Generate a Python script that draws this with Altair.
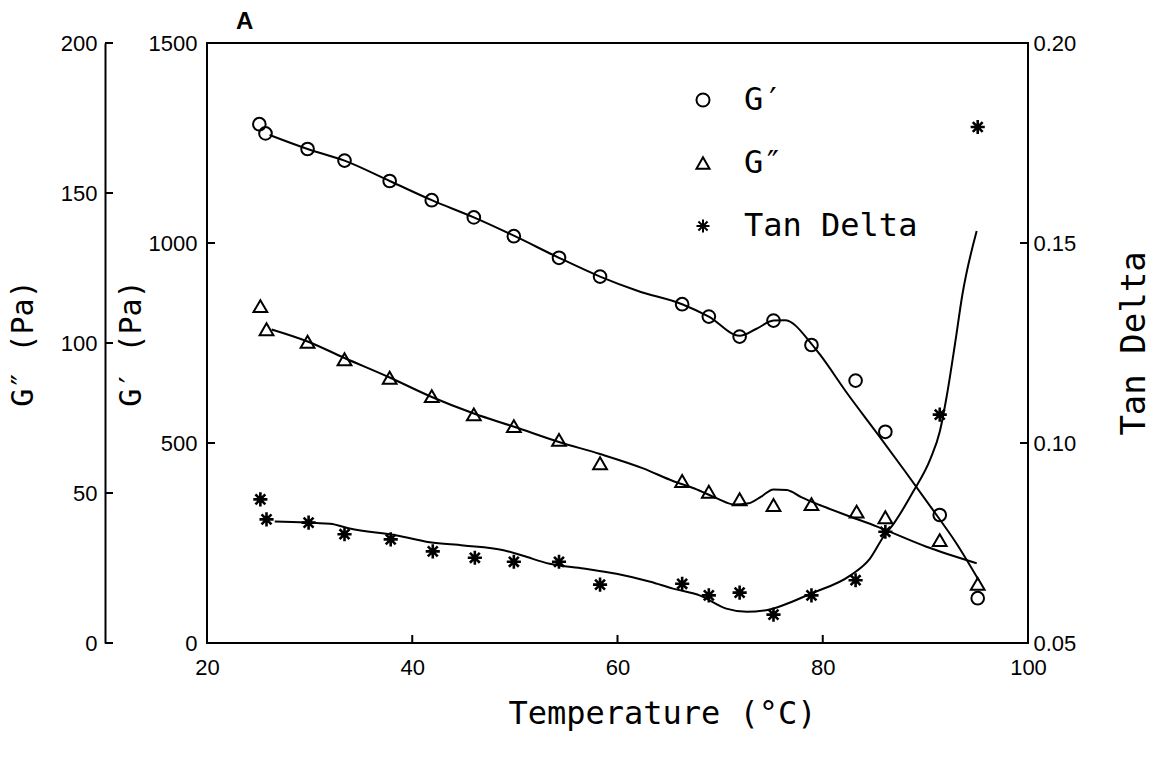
import altair as alt
import pandas as pd

# ---------------- data ----------------
# measured points
T_gp = [25.1, 25.7, 29.8, 33.4, 37.8, 41.9, 46.0, 49.9, 54.3, 58.3, 66.3, 68.9, 71.9, 75.2, 78.9, 83.2, 86.1, 91.4, 95.1]
gp = [1297, 1274, 1235, 1206, 1155, 1107, 1064, 1017, 963, 916, 847, 816, 766, 806, 745, 656, 528, 320, 112]

T_gpp = [25.2, 25.8, 29.8, 33.4, 37.8, 41.9, 46.0, 49.9, 54.3, 58.3, 66.3, 68.9, 71.9, 75.2, 78.9, 83.3, 86.1, 91.4, 95.1]
gpp = [112.3, 104.6, 100.4, 94.6, 88.4, 82.3, 76.2, 72.3, 67.7, 59.9, 54.0, 50.4, 47.9, 46.0, 46.3, 43.8, 41.9, 34.3, 19.7]

T_tan = [25.2, 25.8, 29.9, 33.4, 37.9, 42.0, 46.1, 49.9, 54.3, 58.3, 66.3, 68.9, 71.9, 75.2, 78.9, 83.2, 86.1, 91.4, 95.1]
tan = [0.0859, 0.0809, 0.0801, 0.0772, 0.0759, 0.0729, 0.0713, 0.0703, 0.0703, 0.0646, 0.0648, 0.0619, 0.0626,
       0.0571, 0.0619, 0.0657, 0.0778, 0.1071, 0.179]

# fitted curves
Tc_gp = [26.1, 29.8, 33.4, 37.8, 41.9, 46.0, 50.0, 54.3, 58.3, 62.0, 66.3, 68.9, 71.9, 73.5, 75.2, 76.3, 78.9,
         79.7, 82.5, 85.3, 88.0, 90.5, 93.0, 95.2]
c_gp = [1270, 1235, 1206, 1155, 1107, 1064, 1017, 963, 916, 880, 847, 816, 768, 785, 806, 807, 748,
        722, 620, 524, 430, 341, 250, 157]

Tc_gpp = [26.3, 29.8, 33.4, 37.8, 41.9, 46.0, 50.0, 54.3, 58.3, 62.5, 65.4, 67.5, 69.7, 71.3, 72.8, 74.0, 75.2,
          76.5, 77.9, 79.7, 82.7, 85.3, 90.1, 95.0]
c_gpp = [104.5, 100.5, 95.0, 88.5, 82.0, 76.5, 72.0, 67.0, 63.0, 58.2, 54.0, 51.5, 48.2, 46.2, 46.6, 48.8, 51.2,
         51.0, 48.6, 46.0, 42.1, 38.8, 32.1, 26.6]

Tc_tan = [26.6, 32.0, 33.9, 38.5, 41.7, 45.0, 48.9, 50.8, 53.4, 56.7, 59.9, 63.2, 65.4, 68.0, 70.6, 72.6, 74.5,
          76.5, 78.8, 82.7, 84.6, 85.9, 86.9, 88.8, 90.5, 91.4, 92.1, 92.9, 93.6, 95.0]
c_tan = [0.0804, 0.0798, 0.0786, 0.0769, 0.0752, 0.0744, 0.0732, 0.0718, 0.0698, 0.0686, 0.0673, 0.0653, 0.0636,
         0.0619, 0.0586, 0.0578, 0.0582, 0.0598, 0.0623, 0.0669, 0.0711, 0.0765, 0.0798, 0.0878, 0.0961, 0.1028,
         0.112, 0.125, 0.137, 0.153]

# tick values
x_ticks = [20, 40, 60, 80, 100]
gp_ticks = [0, 500, 1000, 1500]
gpp_ticks = [0, 50, 100, 150, 200]
tan_ticks = [0.05, 0.10, 0.15, 0.20]

series = ["G′", "G″", "Tan Delta"]

# ---------------- layout / style ----------------
W, H = 821, 600
MONO = "DejaVu Sans Mono"
SANS = "Liberation Sans"
STAR = "M-1,0L1,0M0,-1L0,1M-0.7,-0.7L0.7,0.7M-0.7,0.7L0.7,-0.7"

xscale = alt.Scale(domain=[20, 100], nice=False, zero=False)
gp_scale = alt.Scale(domain=[0, 1500], nice=False)
gpp_scale = alt.Scale(domain=[0, 200], nice=False)
tan_scale = alt.Scale(domain=[0.05, 0.20], nice=False, zero=False)
shape_scale = alt.Scale(domain=series, range=["circle", "triangle-up", STAR])

legend = alt.Legend(title=None, orient="none", legendX=480, legendY=41, labelFont=MONO, labelFontSize=32,
                    labelColor="black", symbolSize=170, symbolStrokeWidth=2, symbolStrokeColor="black",
                    rowPadding=31, labelOffset=25, padding=0, labelLimit=400)

x_axis = alt.Axis(orient="bottom", values=x_ticks, format="d", tickSize=0, labelPadding=14, domain=False,
                  grid=False, labelFlush=False, labelOverlap=False, labelFont=SANS, labelFontSize=22,
                  labelColor="black", title="Temperature (°C)", titleFont=MONO, titleFontSize=32,
                  titleFontWeight="normal", titleColor="black", titlePadding=20, titleX=455,
                  titleAlign="center")

gp_axis = alt.Axis(orient="left", values=gp_ticks, format="d", tickSize=0, labelPadding=10, domain=False,
                   grid=False, labelOverlap=False, labelFont=SANS, labelFontSize=22, labelColor="black",
                   title="G′ (Pa)", titleFont=MONO, titleFontSize=30, titleFontWeight="normal",
                   titleColor="black", titlePadding=2)

gpp_axis = alt.Axis(orient="left", offset=102, values=gpp_ticks, format="d", tickSize=0, labelPadding=8,
                    domain=True, domainColor="black", domainWidth=2, grid=False, labelOverlap=False,
                    labelFont=SANS, labelFontSize=22, labelColor="black", title="G″ (Pa)", titleFont=MONO,
                    titleFontSize=30, titleFontWeight="normal", titleColor="black", titlePadding=22)

tan_axis = alt.Axis(orient="right", values=tan_ticks, format=".2f", tickSize=0, labelPadding=5, domain=False,
                    grid=False, labelOverlap=False, labelFont=SANS, labelFontSize=22, labelColor="black",
                    title="Tan Delta", titleFont=MONO, titleFontSize=34, titleFontWeight="normal",
                    titleColor="black", titleAngle=270, titlePadding=76)

df_gp = pd.DataFrame({"T": T_gp, "v": gp, "s": series[0]})
df_gpp = pd.DataFrame({"T": T_gpp, "v": gpp, "s": series[1]})
df_tan = pd.DataFrame({"T": T_tan, "v": tan, "s": series[2]})
dc_gp = pd.DataFrame({"T": Tc_gp, "v": c_gp})
dc_gpp = pd.DataFrame({"T": Tc_gpp, "v": c_gpp})
dc_tan = pd.DataFrame({"T": Tc_tan, "v": c_tan})

X = alt.X("T:Q", scale=xscale, axis=x_axis)


def points(df, scale, axis, size, sw=2):
    return alt.Chart(df).mark_point(filled=False, color="black", strokeWidth=sw, size=size, opacity=1).encode(
        x=X,
        y=alt.Y("v:Q", scale=scale, axis=axis),
        shape=alt.Shape("s:N", scale=shape_scale, legend=legend),
    )


def curve(df, scale):
    return alt.Chart(df).mark_line(color="black", strokeWidth=2, interpolate="monotone").encode(
        x=X,
        y=alt.Y("v:Q", scale=scale, axis=None),
    )


def yticks(vals, scale, x0, x1):
    return alt.Chart(pd.DataFrame({"v": vals})).mark_rule(color="black", strokeWidth=2).encode(
        y=alt.Y("v:Q", scale=scale, axis=None),
        x=alt.value(x0), x2=alt.value(x1),
    )


xtick_layer = alt.Chart(pd.DataFrame({"T": x_ticks})).mark_rule(color="black", strokeWidth=2).encode(
    x=X,
    y=alt.value(H), y2=alt.value(H - 8),
)

chart = alt.layer(
    points(df_gp, gp_scale, gp_axis, 160),
    points(df_gpp, gpp_scale, gpp_axis, 190),
    points(df_tan, tan_scale, tan_axis, 200, sw=2.6),
    curve(dc_gp, gp_scale),
    curve(dc_gpp, gpp_scale),
    curve(dc_tan, tan_scale),
    yticks(gp_ticks, gp_scale, 0, 8),
    yticks(gpp_ticks, gpp_scale, -102, -94),
    yticks(tan_ticks, tan_scale, W, W - 8),
    xtick_layer,
).resolve_scale(y="independent").properties(
    width=W,
    height=H,
    title=alt.TitleParams("A", anchor="start", frame="group", dx=29, fontSize=24, font=SANS,
                          fontWeight="bold", color="black", offset=-2),
    autosize=alt.AutoSizeParams(type="none"),
    padding={"left": 207, "top": 43, "right": 130, "bottom": 116},
).configure(background="white").configure_view(stroke="black", strokeWidth=2)

chart.save("out.html", embed_options={"renderer": "svg", "actions": False})
